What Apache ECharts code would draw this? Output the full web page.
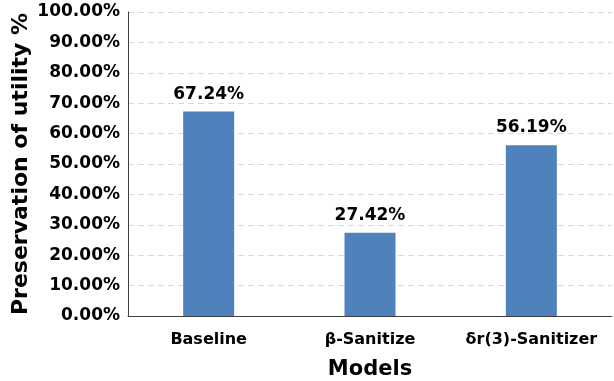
<!DOCTYPE html>
<html>
<head>
    <meta charset="utf-8">
    <title>Preservation of utility</title>
    <script src="https://cdn.jsdelivr.net/npm/echarts@6/dist/echarts.min.js"></script>
</head>
<body style="margin:0">
    <div id="main" style="width: 614px;height:381px;"></div>
    <script type="text/javascript">
        var models = ['Baseline', 'β-Sanitize', 'δr(3)-Sanitizer'];
        var utility = [67.24, 27.42, 56.19];

        var font = 'DejaVu Sans';
        var myChart = echarts.init(document.getElementById('main'));

        myChart.setOption({
            animation: false,
            grid: {
                left: 128,
                right: 2,
                top: 12,
                bottom: 65,
                outerBoundsMode: 'none'
            },
            xAxis: {
                type: 'category',
                data: models,
                name: 'Models',
                nameLocation: 'middle',
                nameGap: 43,
                nameTextStyle: {
                    fontFamily: font,
                    fontWeight: 'bold',
                    fontSize: 21,
                    color: '#000'
                },
                axisLine: { lineStyle: { color: '#404040', width: 1 } },
                axisTick: { show: false },
                axisLabel: {
                    interval: 0,
                    fontFamily: font,
                    fontWeight: 'bold',
                    fontSize: 16,
                    color: '#000',
                    margin: 16
                }
            },
            yAxis: {
                type: 'value',
                min: 0,
                max: 100,
                interval: 10,
                name: 'Preservation of utility %',
                nameLocation: 'middle',
                nameMoveOverlap: false,
                nameGap: 96,
                nameTextStyle: {
                    fontFamily: font,
                    fontWeight: 'bold',
                    fontSize: 22,
                    color: '#000'
                },
                axisLine: { show: true, lineStyle: { color: '#404040', width: 1 } },
                axisTick: { show: false },
                axisLabel: {
                    fontFamily: font,
                    fontWeight: 'bold',
                    fontSize: 17,
                    color: '#000',
                    margin: 8,
                    formatter: function (v) { return v.toFixed(2) + '%'; }
                },
                splitLine: {
                    lineStyle: { color: '#d9d9d9', type: [6, 4], width: 1 }
                }
            },
            series: [{
                type: 'bar',
                data: utility,
                barWidth: 51,
                itemStyle: { color: '#4f81bd' },
                label: {
                    show: true,
                    position: 'top',
                    distance: 9,
                    fontFamily: font,
                    fontWeight: 'bold',
                    fontSize: 17,
                    color: '#000',
                    formatter: function (p) { return p.value.toFixed(2) + '%'; }
                }
            }]
        });
    </script>
</body>
</html>
